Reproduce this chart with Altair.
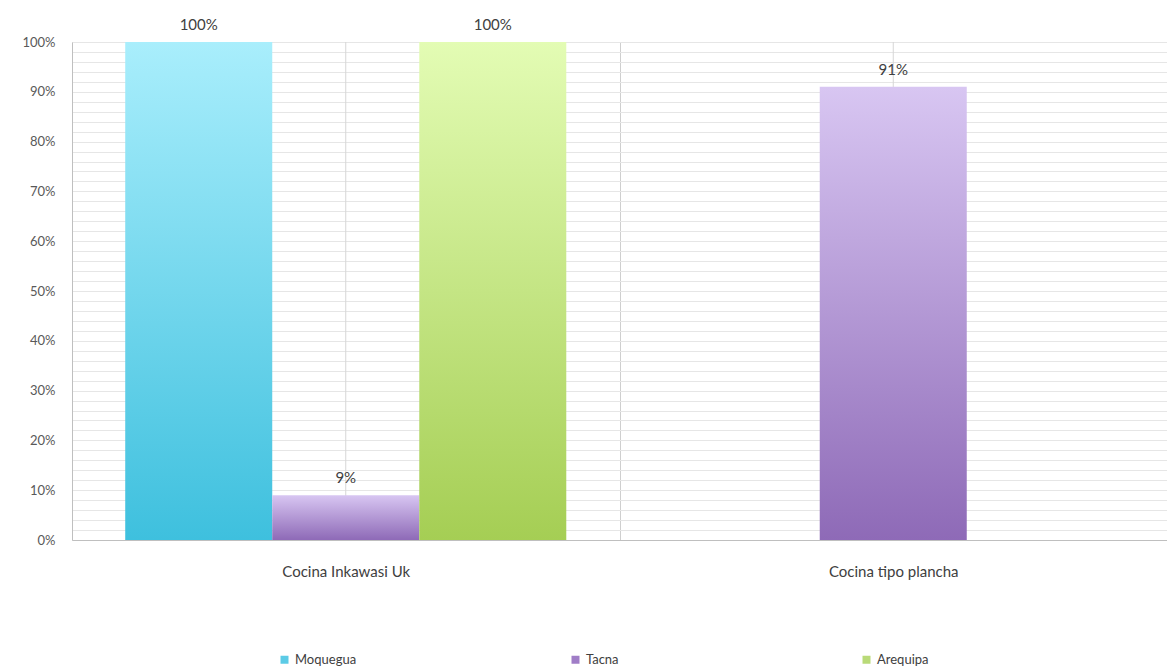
import altair as alt
import pandas as pd

categories = ["Cocina Inkawasi Uk", "Cocina tipo plancha"]
series = ["Moquegua", "Tacna", "Arequipa"]
moquegua = [1.00, None]
tacna = [0.09, 0.91]
arequipa = [1.00, None]

grad_top = {"Moquegua": "#a9eefc", "Tacna": "#d8c6f2", "Arequipa": "#e3fcb4"}
grad_bottom = {"Moquegua": "#3ec0de", "Tacna": "#8e6ab7", "Arequipa": "#a5ce54"}
legend_colors = ["#5ccbe6", "#a07dc7", "#b9da78"]

rows = []
for s, vals in zip(series, [moquegua, tacna, arequipa]):
    for c, v in zip(categories, vals):
        if v is not None:
            rows.append({"category": c, "series": s, "value": v})
df = pd.DataFrame(rows)
cat_df = pd.DataFrame({"category": categories})

FONT = "Lato"

x_enc = alt.X(
    "category:N",
    sort=categories,
    title=None,
    scale=alt.Scale(paddingInner=0, paddingOuter=0),
    axis=alt.Axis(
        labelAngle=0,
        labelFontSize=15,
        labelColor="#404040",
        labelFont=FONT,
        labelPadding=24,
        ticks=False,
        grid=True,
        tickBand="extent",
        gridColor="#cfcfcf",
        domain=True,
        domainColor="#bfbfbf",
    ),
)
xoff_enc = alt.XOffset(
    "series:N",
    sort=series,
    scale=alt.Scale(domain=series, paddingInner=0, paddingOuter=0.362),
)
y_enc = alt.Y(
    "value:Q",
    title=None,
    scale=alt.Scale(domain=[0, 1], nice=False),
    axis=alt.Axis(
        values=[i / 50 for i in range(51)],
        labelExpr="round(datum.value*100) % 10 == 0 ? format(datum.value, '.0%') : ''",
        labelFontSize=13,
        labelColor="#595959",
        labelFont=FONT,
        labelPadding=17,
        ticks=False,
        grid=True,
        gridColor="#e6e6e6",
        domain=True,
        domainColor="#bfbfbf",
    ),
)

base = alt.Chart(df).encode(x=x_enc, xOffset=xoff_enc, y=y_enc)

center_rules = alt.Chart(cat_df).mark_rule(color="#d6d6d6", strokeWidth=1).encode(x=x_enc)

bar_layers = []
for s in series:
    grad = {
        "gradient": "linear",
        "x1": 0, "y1": 0, "x2": 0, "y2": 1,
        "stops": [
            {"offset": 0, "color": grad_top[s]},
            {"offset": 1, "color": grad_bottom[s]},
        ],
    }
    bar_layers.append(
        base.transform_filter(alt.datum.series == s).mark_bar(fill=grad, stroke=None)
    )

legend_layer = base.mark_square(opacity=0, size=10).encode(
    color=alt.Color(
        "series:N",
        sort=series,
        scale=alt.Scale(domain=series, range=legend_colors),
        legend=alt.Legend(
            title=None,
            orient="none",
            direction="horizontal",
            legendX=206,
            legendY=611,
            columns=3,
            gridAlign="all",
            columnPadding=212,
            symbolType="square",
            symbolSize=64,
            symbolOpacity=1,
            symbolStrokeWidth=0,
            labelFontSize=13,
            labelFont=FONT,
            labelColor="#404040",
            labelOffset=4,
        ),
    )
)

text_layer = base.mark_text(
    baseline="bottom", dy=-9, fontSize=15, font=FONT, color="#404040"
).encode(text=alt.Text("value:Q", format=".0%"))

chart = alt.layer(center_rules, *bar_layers, text_layer, legend_layer).properties(
    width=1095,
    height=498,
    autosize=alt.AutoSizeParams(type="none"),
    padding={"left": 64, "top": 34, "right": 0, "bottom": 130},
).configure_view(stroke=None)

chart.save("out.html", embed_options={"renderer": "svg", "actions": False})
